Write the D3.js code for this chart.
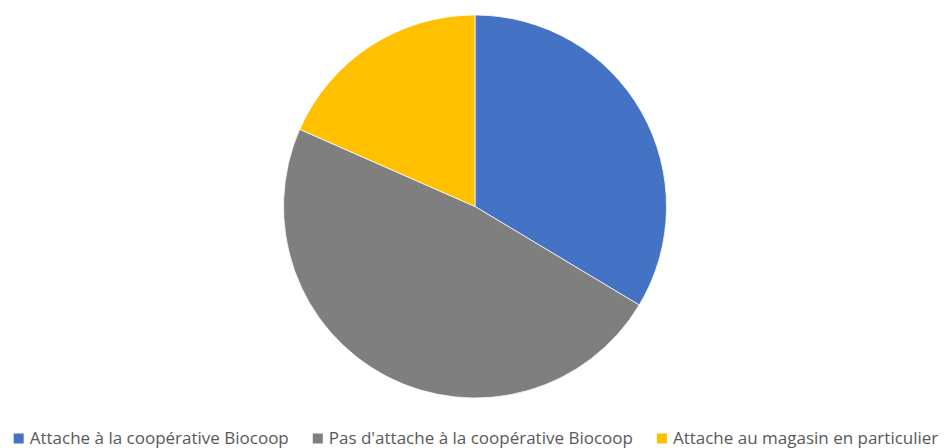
<!DOCTYPE html>
<html>
<head>
<meta charset="utf-8">
<script src="https://cdn.jsdelivr.net/npm/d3@7"></script>
<style>
  html, body { margin: 0; padding: 0; background: #fff; }
  svg { display: block; }
</style>
</head>
<body>
<svg id="chart" width="952" height="448"></svg>
<script>
const categories = ["Attache à la coopérative Biocoop", "Pas d'attache à la coopérative Biocoop", "Attache au magasin en particulier"];
const values = [42, 60, 23];
const colors = ["#4472C4", "#7F7F7F", "#FFC000"];

const svg = d3.select("#chart");
const W = 952, H = 448;
const cx = 475, cy = 206.5, r = 191.5;

const pie = d3.pie().sort(null).value(d => d.v)(categories.map((c, i) => ({c, v: values[i]})));
const arc = d3.arc().innerRadius(0).outerRadius(r);
const color = d3.scaleOrdinal().domain(categories).range(colors);

svg.append("g").attr("transform", `translate(${cx},${cy})`)
  .selectAll("path").data(pie).join("path")
  .attr("d", arc)
  .attr("fill", d => color(d.data.c))
  .attr("stroke", "#fff")
  .attr("stroke-width", 0.75);

// Legend
const fontFamily = "'Open Sans', 'Noto Sans', sans-serif";
const markerSize = 10, markerGap = 6, itemGap = 24;
const legend = svg.append("g");
const items = legend.selectAll("g").data(categories).join("g");
const texts = items.append("text")
  .attr("font-family", fontFamily)
  .attr("font-size", 16)
  .attr("fill", "#595959")
  .text(d => d);
const w16 = texts.nodes().map(n => n.getComputedTextLength());
const avail = 932 - categories.length * (markerSize + markerGap) - (categories.length - 1) * itemGap;
const fs = Math.min(17, 16 * avail / d3.sum(w16));
const baseline = 443.5;
texts.attr("font-size", fs).attr("y", baseline);
const widths = texts.nodes().map(n => n.getComputedTextLength());
const total = d3.sum(widths) + categories.length * (markerSize + markerGap) + (categories.length - 1) * itemGap;
let x = (W - total) / 2;
items.each(function(d, i) {
  const g = d3.select(this);
  g.insert("rect", "text")
    .attr("x", x).attr("y", baseline - markerSize)
    .attr("width", markerSize).attr("height", markerSize)
    .attr("fill", color(d));
  g.select("text").attr("x", x + markerSize + markerGap);
  x += markerSize + markerGap + widths[i] + itemGap;
});
</script>
</body>
</html>
